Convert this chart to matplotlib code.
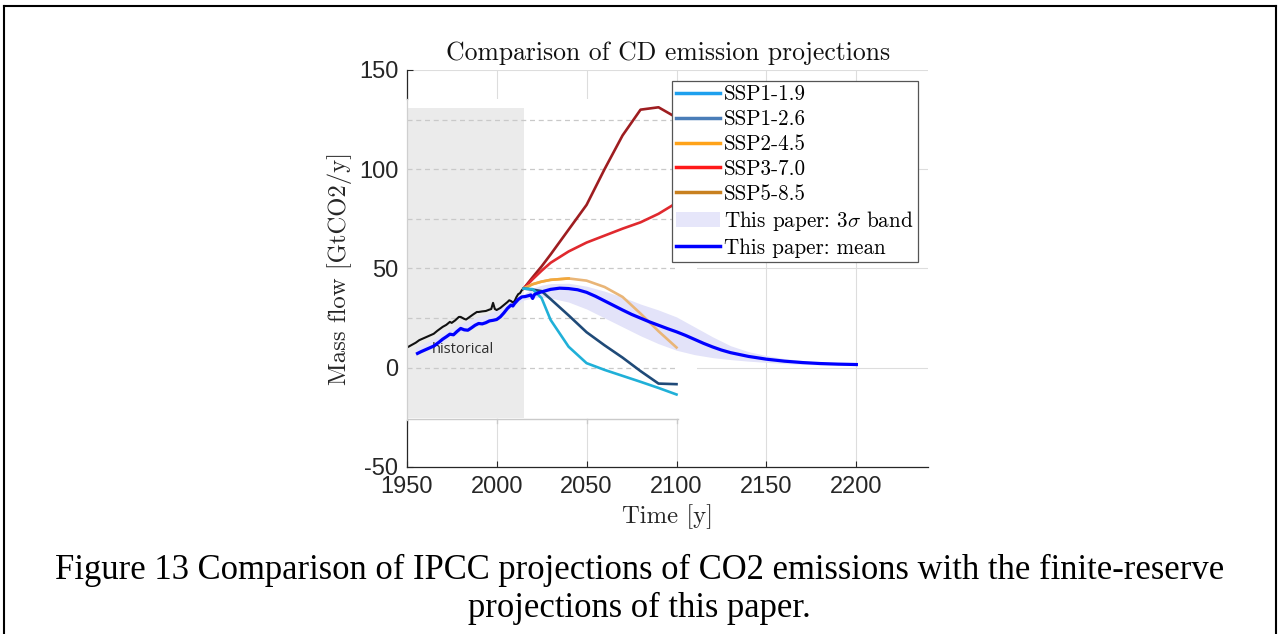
'''
Comparison of IPCC SSP CO2 emission projections with the finite-reserve model
'''
import numpy as np
import matplotlib.pyplot as plt
from matplotlib.patches import Rectangle, Patch
from matplotlib.lines import Line2D

plt.rcParams['mathtext.fontset'] = 'cm'
plt.rcParams['axes.unicode_minus'] = False

# IPCC historical emissions (GtCO2/y)
hist_years = [1950, 1952, 1955, 1957, 1960, 1962, 1965, 1967, 1970, 1972, 1974, 1975, 1977, 1979,
              1980, 1982, 1983, 1985, 1987, 1989, 1990, 1992, 1994, 1996, 1997, 1998, 1999, 2000,
              2002, 2004, 2006, 2007, 2008, 2009, 2010, 2011, 2012, 2013, 2014, 2015]
hist_ipcc = [10.0, 11.0, 12.5, 13.8, 15.0, 15.8, 17.0, 18.5, 20.5, 21.5, 23.0, 22.5, 23.8, 25.5,
             25.5, 24.5, 24.2, 25.5, 26.8, 28.0, 28.0, 28.3, 28.5, 29.2, 29.5, 32.6, 29.5, 29.0,
             30.0, 31.5, 33.0, 33.9, 33.5, 32.8, 33.5, 35.5, 37.0, 37.5, 39.0, 39.8]

# IPCC SSP scenarios
ssp_years = [2015, 2020, 2025, 2030, 2040, 2050, 2060, 2070, 2080, 2090, 2100]
ssp119 = [39.8, 39.5, 35.0, 24.0, 10.5, 2.2, -1.2, -4.2, -7.2, -10.3, -13.6]
ssp126 = [39.8, 39.3, 38.5, 34.5, 26.3, 17.8, 11.2, 5.0, -1.8, -8.1, -8.4]
ssp245 = [39.8, 42.0, 43.3, 44.2, 44.9, 43.8, 40.6, 35.6, 27.2, 18.3, 10.1]
ssp370 = [39.8, 44.5, 48.8, 52.8, 58.5, 63.0, 66.5, 70.0, 73.2, 77.5, 83.0]
ssp585 = [39.8, 45.5, 51.0, 57.0, 69.5, 82.0, 100.0, 117.0, 130.0, 131.2, 126.0]

# This paper: mean projection (incl. historical fit)
mean_years = [1956, 1958, 1960, 1963, 1965, 1968, 1970, 1972, 1974, 1976, 1978, 1980, 1982, 1984,
              1986, 1988, 1990, 1992, 1994, 1996, 1998, 2000, 2002, 2004, 2006, 2008, 2009, 2010,
              2012, 2014, 2016, 2018, 2019, 2020, 2021, 2023, 2026, 2030, 2035, 2040, 2045, 2050,
              2055, 2060, 2065, 2070, 2075, 2080, 2085, 2090, 2095, 2100, 2105, 2110, 2115, 2120,
              2125, 2130, 2140, 2150, 2160, 2170, 2180, 2190, 2200]
mean_vals = [7.1, 8.0, 8.8, 10.0, 10.8, 12.8, 14.3, 15.5, 16.8, 16.5, 18.2, 19.7, 19.0, 18.8,
             20.0, 21.3, 22.2, 22.0, 22.6, 23.5, 23.8, 24.2, 25.5, 27.5, 29.8, 31.5, 31.0, 32.3,
             34.3, 35.6, 35.8, 36.3, 36.6, 34.8, 36.8, 37.6, 38.4, 39.4, 40.0, 39.8, 39.2, 37.9,
             35.9, 33.6, 31.3, 29.0, 26.8, 24.9, 23.0, 21.3, 19.6, 18.0, 16.2, 14.2, 12.2, 10.4,
             8.8, 7.5, 5.6, 4.2, 3.2, 2.5, 2.0, 1.7, 1.5]

# This paper: 3 sigma band
band_years = [1955, 1965, 1975, 1985, 1995, 2005, 2015, 2020, 2025, 2030, 2040, 2050, 2060, 2070,
              2080, 2090, 2100, 2110, 2120, 2130, 2140, 2150, 2160, 2170, 2180, 2190, 2200]
band_hi = [10.0, 14.5, 20.0, 24.0, 27.0, 31.5, 37.0, 40.0, 41.5, 42.3, 42.5, 41.0, 38.5, 35.5,
           32.0, 29.0, 25.5, 20.5, 15.5, 11.0, 8.0, 6.0, 4.5, 3.5, 2.6, 2.1, 1.8]
band_lo = [6.5, 10.0, 15.5, 19.5, 22.5, 28.0, 34.0, 35.0, 35.5, 35.0, 33.0, 29.5, 25.0, 20.5,
           16.0, 12.0, 8.7, 6.5, 5.0, 4.0, 3.2, 2.6, 2.0, 1.6, 1.3, 1.2, 1.1]

legend_labels = ['SSP1-1.9', 'SSP1-2.6', 'SSP2-4.5', 'SSP3-7.0', 'SSP5-8.5',
                 r'This paper: $3\sigma$ band', 'This paper: mean']

# the pasted IPCC panel (white background, grey historical box, dashed grid)
panel_x = (1949.0, 2111.3)
panel_y = (-26.6, 135.6)
hist_box = (1950, 2015.2, -25.7, 130.6)
panel_grid = [0, 25, 50, 75, 100, 125]
panel_ticks = [1950, 2000, 2050, 2100]

axcol = '#262626'
cm = 'cmr10'

fig = plt.figure(figsize=(12.79, 6.34), dpi=100)
ax = fig.add_axes([0.318, 0.2639, 0.4078, 0.6257])
ax.set_xlim(1950, 2240)
ax.set_ylim(-50, 150)
ax.set_xticks(np.arange(1950, 2201, 50))
ax.set_yticks(np.arange(-50, 151, 50))
ax.grid(True, color='#dddddd', lw=0.8)
ax.set_axisbelow(True)
for s in ['top', 'right', 'left']:
    ax.spines[s].set_visible(False)
ax.spines['bottom'].set_color(axcol)
ax.spines['bottom'].set_linewidth(0.9)
ax.tick_params(direction='in', length=4, width=0.8, color=axcol, labelcolor=axcol,
               labelsize=17, pad=7)
ax.tick_params(axis='y', pad=6)
for lab in ax.get_xticklabels() + ax.get_yticklabels():
    lab.set_family('Liberation Sans')

# left axis line, partly hidden by the pasted panel
ax.plot([1950, 1950], [-50, panel_y[0]], color=axcol, lw=0.9, clip_on=False, zorder=4)
ax.plot([1950, 1950], [panel_y[1], 150], color=axcol, lw=0.9, clip_on=False, zorder=4)
ax.plot([1950, 1950], [panel_y[0], panel_y[1]], color='#cfcfcf', lw=0.9, clip_on=False, zorder=4)

# pasted panel
ax.add_patch(Rectangle((panel_x[0], panel_y[0]), panel_x[1] - panel_x[0], panel_y[1] - panel_y[0],
                       fc='white', ec='none', zorder=1))
ax.add_patch(Rectangle((hist_box[0], hist_box[2]), hist_box[1] - hist_box[0], hist_box[3] - hist_box[2],
                       fc='#ebebeb', ec='none', zorder=1.1))
for v in panel_grid:
    ax.plot([1950, 2100.3], [v, v], ls=(0, (4, 3)), color='#c9c9c9', lw=0.9, zorder=1.2)
ax.plot([1950, 2100.8], [-26, -26], color='#cacaca', lw=1, zorder=1.3)
for t in panel_ticks:
    ax.plot([t, t], [-26, -28], color='#cacaca', lw=1, zorder=1.3)
ax.text(1964, 9.2, 'historical', family='Open Sans', fontsize=10.5, color='#2e2e2e',
        va='center', ha='left', zorder=3)

# data
ax.fill_between(band_years, band_lo, band_hi, color='#e3e3f9', lw=0, zorder=1.5)
ax.plot(hist_years, hist_ipcc, color='#111111', lw=1.5, zorder=3)
ax.plot(ssp_years, ssp585, color='#9e1d20', lw=1.9, zorder=3)
ax.plot(ssp_years, ssp370, color='#e0292e', lw=1.9, zorder=3)
ax.plot(ssp_years, ssp245, color='#e9b577', lw=1.9, zorder=3)
ax.plot(ssp_years[:5], ssp245[:5], color='#f2a83c', lw=1.9, zorder=3)
ax.plot(ssp_years, ssp126, color='#1f4a78', lw=1.9, zorder=3)
ax.plot(ssp_years, ssp119, color='#20b0d8', lw=1.9, zorder=3)
ax.plot(mean_years, mean_vals, color='#0000ff', lw=2.3, zorder=3.5)

# legend (colours as in the original legend)
handles = [Line2D([], [], color='#1ea0ee', lw=2.5),
           Line2D([], [], color='#4a7db8', lw=2.5),
           Line2D([], [], color='#ffa31a', lw=2.5),
           Line2D([], [], color='#ff1a1a', lw=2.5),
           Line2D([], [], color='#c8801f', lw=2.5),
           Patch(fc='#e6e6fa', ec='none'),
           Line2D([], [], color='#0000ff', lw=2.5)]
leg = ax.legend(handles, legend_labels, loc='upper left', bbox_to_anchor=(0.508, 0.973),
                borderaxespad=0, prop={'family': cm, 'size': 15.2}, frameon=True,
                fancybox=False, framealpha=1, edgecolor='#555555', handlelength=2.08,
                handletextpad=0.2, borderpad=0.2, labelspacing=0.25)
leg.get_frame().set_linewidth(0.9)
leg.set_zorder(5)

# titles
fig.text(0.5222, 1 - 60 / 634, 'Comparison of CD emission projections', family=cm,
         fontsize=18.5, ha='center', va='baseline', color='#111111')
fig.text(0.5222, 1 - 523 / 634, 'Time [y]', family=cm, fontsize=17.8, ha='center',
         va='baseline', color=axcol)
fig.text(340 / 1279, 1 - 268.5 / 634, 'Mass flow [GtCO2/y]', family=cm, fontsize=17.8,
         ha='center', va='center', rotation=90, color=axcol)

# caption
fig.text(0.5, 1 - 570 / 634, 'Figure 13 Comparison of IPCC projections of CO2 emissions with the finite-reserve',
         family='Liberation Serif', fontsize=24.9, ha='center', va='center')
fig.text(0.5, 1 - 608 / 634, 'projections of this paper.', family='Liberation Serif',
         fontsize=24.9, ha='center', va='center')

# page frame
for xs, ys in [([4, 4], [634, 6]), ([4, 1276], [6, 6]), ([1276, 1276], [6, 634])]:
    fig.add_artist(Line2D([x / 1279 for x in xs], [1 - y / 634 for y in ys],
                          transform=fig.transFigure, color='black', lw=1.5))

plt.savefig('out.png', dpi=100)
